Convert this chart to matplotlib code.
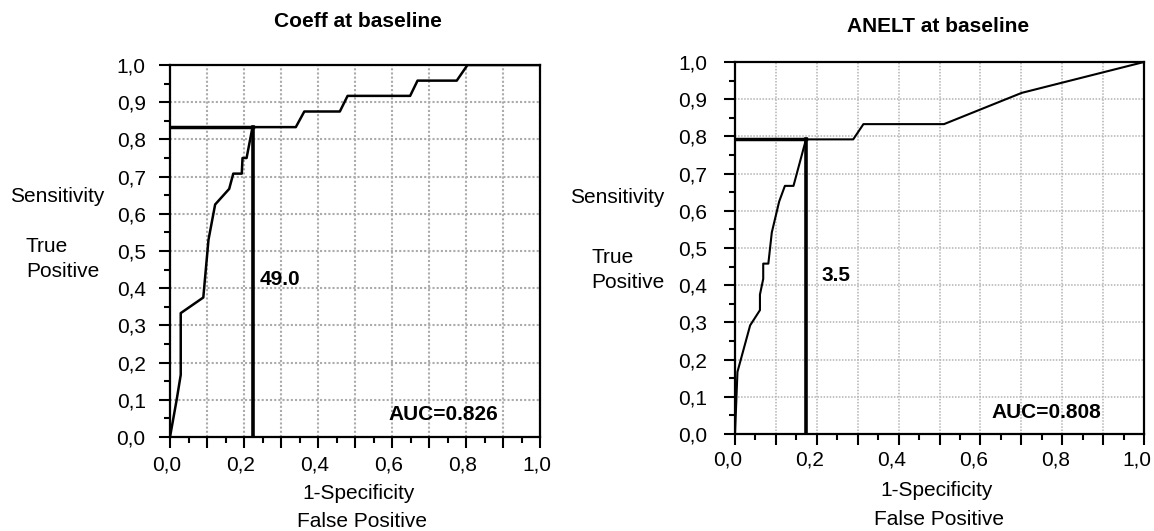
import matplotlib
matplotlib.use("Agg")
import matplotlib.pyplot as plt
from matplotlib.ticker import MultipleLocator, FixedLocator
from matplotlib.transforms import ScaledTranslation

plt.rcParams['font.family'] = ['Liberation Sans', 'DejaVu Sans']

# ---------------- data ----------------
coeff_fpr = [0.0, 0.018, 0.029, 0.029, 0.090, 0.104, 0.122, 0.160, 0.171, 0.194, 0.196,
             0.207, 0.223, 0.340, 0.363, 0.459, 0.480, 0.649, 0.669, 0.775, 0.804, 1.0]
coeff_tpr = [0.0, 0.100, 0.167, 0.333, 0.375, 0.530, 0.625, 0.667, 0.708, 0.708, 0.750,
             0.750, 0.833, 0.833, 0.875, 0.875, 0.917, 0.917, 0.958, 0.958, 1.0, 1.0]
coeff_cut = (0.2235, 0.833)
coeff_cut_label = "49.0"
coeff_auc = "AUC=0.826"

anelt_fpr = [0.0, 0.006, 0.037, 0.061, 0.061, 0.069, 0.069, 0.0815, 0.090, 0.108, 0.122,
             0.143, 0.1736, 0.289, 0.314, 0.511, 0.701, 1.0]
anelt_tpr = [0.0, 0.167, 0.292, 0.333, 0.375, 0.417, 0.458, 0.458, 0.542, 0.625, 0.667,
             0.667, 0.792, 0.792, 0.833, 0.833, 0.917, 1.0]
anelt_cut = (0.1736, 0.792)
anelt_cut_label = "3.5"
anelt_auc = "AUC=0.808"

tick_values = [0.0, 0.1, 0.2, 0.3, 0.4, 0.5, 0.6, 0.7, 0.8, 0.9, 1.0]
y_tick_labels = ["0,0", "0,1", "0,2", "0,3", "0,4", "0,5", "0,6", "0,7", "0,8", "0,9", "1,0"]
x_tick_labels = ["0,0", "", "0,2", "", "0,4", "", "0,6", "", "0,8", "", "1,0"]

titles = ["Coeff at baseline", "ANELT at baseline"]

# ---------------- figure ----------------
W, H = 1154, 531
fig = plt.figure(figsize=(W / 100, H / 100), dpi=100)


def px_axes(x0, x1, ytop, ybot):
    return fig.add_axes([x0 / W, 1 - ybot / H, (x1 - x0) / W, (ybot - ytop) / H])


def ftext(x, y, s, **kw):
    fig.text(x / W, 1 - y / H, s, **kw)


def setup(ax, grid_lw, grid_color, ypad, xpad, xshift_px):
    ax.set_xlim(0, 1)
    ax.set_ylim(0, 1)
    ax.set_yticks(tick_values, y_tick_labels)
    ax.set_xticks(tick_values, x_tick_labels)
    ax.xaxis.set_minor_locator(MultipleLocator(0.05))
    ax.yaxis.set_minor_locator(MultipleLocator(0.05))
    ax.grid(True, which='major', color=grid_color, linestyle=(0, (1, 1)),
            linewidth=grid_lw, zorder=0)
    ax.set_axisbelow(True)
    ax.tick_params(which='major', direction='out', length=8, width=1.5, labelsize=15)
    ax.tick_params(which='minor', direction='out', length=4.3, width=1.5)
    ax.tick_params(axis='y', which='major', pad=ypad)
    ax.tick_params(axis='x', which='major', pad=xpad)
    for sp in ax.spines.values():
        sp.set_linewidth(1.6)
        sp.set_color('black')
    off = ScaledTranslation(xshift_px / 100, 0, fig.dpi_scale_trans)
    for lab in ax.get_xticklabels():
        lab.set_transform(lab.get_transform() + off)


# left chart
ax1 = px_axes(170, 540, 65, 437)
setup(ax1, 1.5, '#ababab', 9.5, 5, -3)
ax1.plot(coeff_fpr, coeff_tpr, color='black', lw=1.8, zorder=3)
ax1.plot([0, coeff_cut[0]], [coeff_cut[1], coeff_cut[1]], color='black', lw=2.5, zorder=4)
ax1.plot([coeff_cut[0], coeff_cut[0]], [0, coeff_cut[1]], color='black', lw=2.6, zorder=4)
ax1.text(0.243, 0.409, coeff_cut_label, fontsize=15, fontweight='bold', ha='left', va='baseline')
ax1.text(0.886, 0.046, coeff_auc, fontsize=15, fontweight='bold', ha='right', va='baseline')

# right chart
ax2 = px_axes(735, 1144, 62, 434)
setup(ax2, 1.1, '#b3b3b3', 12, 3.6, -7)
ax2.plot(anelt_fpr, anelt_tpr, color='black', lw=1.5, zorder=3)
ax2.plot([0, anelt_cut[0]], [anelt_cut[1], anelt_cut[1]], color='black', lw=2.5, zorder=4)
ax2.plot([anelt_cut[0], anelt_cut[0]], [0, anelt_cut[1]], color='black', lw=2.6, zorder=4)
ax2.text(0.212, 0.412, anelt_cut_label, fontsize=15, fontweight='bold', ha='left', va='baseline')
ax2.text(0.8966, 0.043, anelt_auc, fontsize=15, fontweight='bold', ha='right', va='baseline')

# titles
ftext(358, 27, titles[0], fontsize=15, fontweight='bold', ha='center', va='baseline')
ftext(938, 32, titles[1], fontsize=15, fontweight='bold', ha='center', va='baseline')

# y-axis labels
ftext(10, 202, "Sensitivity", fontsize=15, ha='left', va='baseline')
ftext(26, 252, "True", fontsize=15, ha='left', va='baseline')
ftext(26, 277, "Positive", fontsize=15, ha='left', va='baseline')
ftext(570, 203, "Sensitivity", fontsize=15, ha='left', va='baseline')
ftext(591, 263, "True", fontsize=15, ha='left', va='baseline')
ftext(591, 288, "Positive", fontsize=15, ha='left', va='baseline')

# x-axis labels
ftext(358.5, 499, "1-Specificity", fontsize=15, ha='center', va='baseline')
ftext(362, 527, "False Positive", fontsize=15, ha='center', va='baseline')
ftext(936.5, 496, "1-Specificity", fontsize=15, ha='center', va='baseline')
ftext(939, 525, "False Positive", fontsize=15, ha='center', va='baseline')

fig.savefig("out.png", dpi=100)
